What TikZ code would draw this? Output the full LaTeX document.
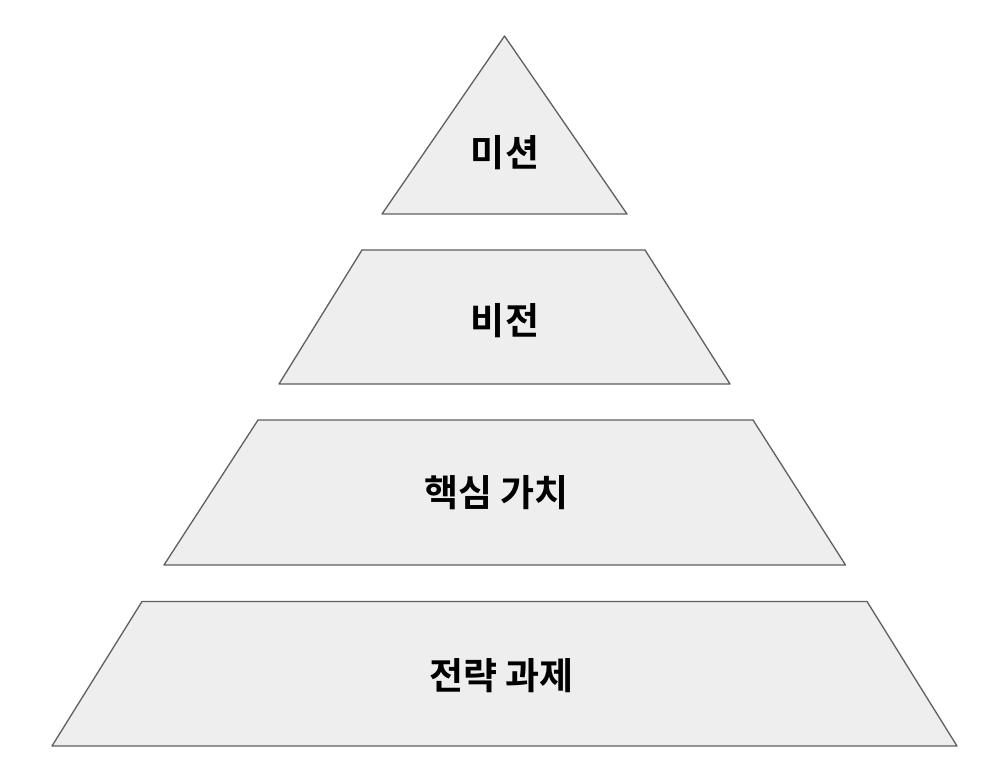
\documentclass[tikz,border=0pt]{standalone}
\usepackage{fontspec}
\newfontfamily\krfont{Noto Sans CJK KR}[BoldFont={Noto Sans CJK KR Bold}]
\usepackage{tikz}
\usetikzlibrary{positioning,calc}
\usepackage{xcolor}
\definecolor{linegray}{HTML}{5F5F5F}
\definecolor{levelfill}{HTML}{EEEEEE}
\tikzset{
  tier/.style={draw=linegray, fill=levelfill, line width=1.3pt, line join=round},
  tiertext/.style={font=\krfont\bfseries\fontsize{37}{44}\selectfont, inner sep=0pt},
}

\begin{document}
\begin{tikzpicture}[x=1pt, y=-1pt]
\useasboundingbox (0,0) rectangle (1004,778);
% pyramid tiers, top to bottom
\draw[tier] (504.5,36) -- (627,214) -- (382,214) -- cycle;
\draw[tier] (362,250) -- (645,250) -- (730,384) -- (279,384) -- cycle;
\draw[tier] (258,420) -- (753,420) -- (845.5,565) -- (164,565) -- cycle;
\draw[tier] (142,601.5) -- (867,601.5) -- (957,746) -- (52,746) -- cycle;
% labels
\node[tiertext] (mission) at (505,153) {미션};
\node[tiertext] (vision) at (505,321) {비전};
\node[tiertext] (values) at (496.5,493) {핵심 가치};
\node[tiertext] (tasks) at (501.5,676) {전략 과제};
\end{tikzpicture}
\end{document}
